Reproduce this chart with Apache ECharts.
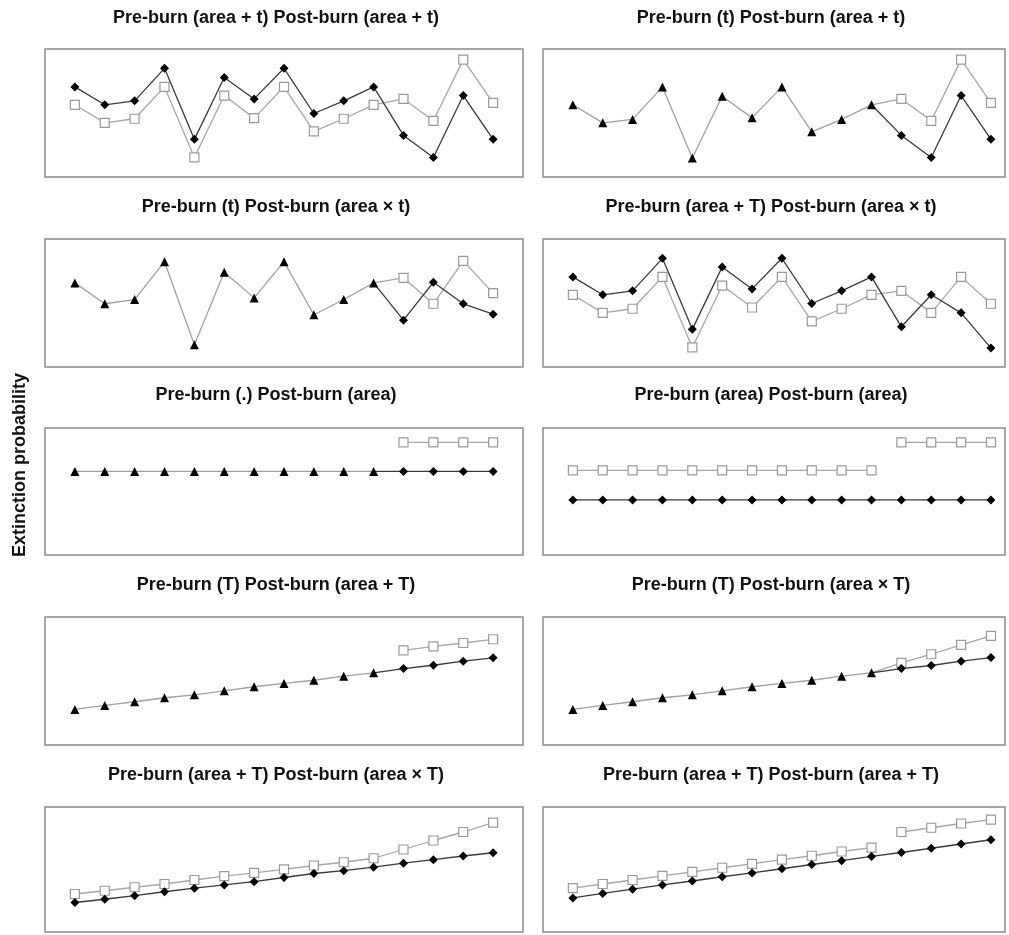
<!DOCTYPE html>
<html>
<head>
<meta charset="UTF-8">
<title>Extinction probability</title>
<script src="https://cdn.jsdelivr.net/npm/echarts@6/dist/echarts.min.js"></script>
<style>
    body, html { margin: 0; padding: 0; background: #fff; }
    #main { width: 1009px; height: 935px; }
</style>
</head>
<body>
<div id="main"></div>
<script>
    // values, in % of each panel's height
    // p1: Pre-burn (area + t) Post-burn (area + t)
    const p1Black = [70.4, 56.4, 59.5, 84.9, 29.4, 77.7, 61.0, 84.9, 49.6, 59.5, 70.4, 32.5, 15.3, 63.6, 29.4];
    const p1Gray  = [56.4, 42.3, 45.5, 70.4, 15.3, 63.6, 46.0, 70.4, 35.6, 45.5, 56.4, 61.0, 43.9, 91.7, 57.9];
    // p2: Pre-burn (t) Post-burn (area + t)
    const p2Pre   = [56.4, 42.3, 45.0, 70.4, 14.8, 63.1, 46.2, 70.4, 35.3, 45.0, 56.4];
    const p2Black = [32.5, 15.3, 63.6, 29.4];
    const p2Gray  = [61.0, 43.9, 91.7, 57.9];
    // p3: Pre-burn (t) Post-burn (area x t)
    const p3Pre   = [65.7, 49.4, 52.7, 82.3, 17.4, 74.0, 54.0, 82.3, 40.8, 52.7, 65.7];
    const p3Black = [36.6, 66.2, 49.4, 41.3];
    const p3Gray  = [69.6, 49.4, 82.9, 57.7];
    // p4: Pre-burn (area + T) Post-burn (area x t)
    const p4Black = [70.4, 56.4, 59.5, 84.9, 29.4, 78.2, 61.0, 84.9, 49.6, 59.5, 70.4, 31.4, 56.4, 42.3, 14.8];
    const p4Gray  = [56.4, 42.3, 45.5, 70.4, 15.3, 63.6, 46.5, 70.4, 35.6, 45.5, 56.4, 59.5, 42.3, 70.4, 49.4];
    // p5: Pre-burn (.) Post-burn (area)
    const p5Pre   = [65.8, 65.8, 65.8, 65.8, 65.8, 65.8, 65.8, 65.8, 65.8, 65.8, 65.8];
    const p5Black = [65.8, 65.8, 65.8, 65.8];
    const p5Gray  = [88.7, 88.7, 88.7, 88.7];
    // p6: Pre-burn (area) Post-burn (area)
    const p6Black   = [43.4, 43.4, 43.4, 43.4, 43.4, 43.4, 43.4, 43.4, 43.4, 43.4, 43.4, 43.4, 43.4, 43.4, 43.4];
    const p6GrayPre = [66.6, 66.6, 66.6, 66.6, 66.6, 66.6, 66.6, 66.6, 66.6, 66.6, 66.6];
    const p6Gray    = [88.7, 88.7, 88.7, 88.7];
    // p7: Pre-burn (T) Post-burn (area + T)
    const p7Pre   = [27.8, 30.9, 33.8, 36.9, 39.2, 42.3, 45.5, 48.1, 50.6, 53.8, 56.4];
    const p7Black = [59.7, 62.3, 65.5, 68.1];
    const p7Gray  = [74.0, 77.1, 79.7, 82.6];
    // p8: Pre-burn (T) Post-burn (area x T)
    const p8Pre   = [27.8, 30.9, 33.8, 36.9, 39.2, 42.3, 45.5, 48.1, 50.6, 53.8, 56.4];
    const p8Black = [59.7, 62.1, 65.5, 68.3];
    const p8Gray  = [64.2, 70.9, 78.2, 85.2];
    // p9: Pre-burn (area + T) Post-burn (area x T)
    const p9Black = [23.6, 26.2, 29.1, 32.2, 35.1, 37.7, 40.3, 43.6, 46.8, 49.1, 51.9, 55.1, 57.9, 60.8, 63.4];
    const p9Gray  = [30.4, 33.0, 35.8, 38.4, 41.6, 44.7, 47.3, 50.1, 53.2, 55.8, 59.0, 66.0, 73.2, 80.0, 87.5];
    // p10: Pre-burn (area + T) Post-burn (area + T)
    const p10Black   = [27.3, 30.9, 34.3, 37.7, 40.8, 44.2, 47.3, 50.6, 54.0, 57.1, 60.5, 63.6, 67.0, 70.4, 73.8];
    const p10GrayPre = [35.1, 38.4, 41.6, 44.9, 48.1, 51.4, 54.5, 57.9, 61.0, 64.4, 67.5];
    const p10Gray    = [80.0, 83.4, 86.8, 89.9];

    const titles = [
        'Pre-burn (area + t) Post-burn (area + t)', 'Pre-burn (t) Post-burn (area + t)',
        'Pre-burn (t) Post-burn (area \u00d7 t)', 'Pre-burn (area + T) Post-burn (area \u00d7 t)',
        'Pre-burn (.) Post-burn (area)', 'Pre-burn (area) Post-burn (area)',
        'Pre-burn (T) Post-burn (area + T)', 'Pre-burn (T) Post-burn (area \u00d7 T)',
        'Pre-burn (area + T) Post-burn (area \u00d7 T)', 'Pre-burn (area + T) Post-burn (area + T)'
    ];

    // lines for each panel: [values, kind, first index, pre line it is joined to]
    const panels = [
        [[p1Black, 'dia', 0], [p1Gray, 'sq', 0]],
        [[p2Pre, 'tri', 0], [p2Black, 'dia', 11, p2Pre], [p2Gray, 'sq', 11, p2Pre]],
        [[p3Pre, 'tri', 0], [p3Black, 'dia', 11, p3Pre], [p3Gray, 'sq', 11, p3Pre]],
        [[p4Black, 'dia', 0], [p4Gray, 'sq', 0]],
        [[p5Pre, 'tri', 0], [p5Black, 'dia', 11, p5Pre], [p5Gray, 'sq', 11]],
        [[p6Black, 'dia', 0], [p6GrayPre, 'sq', 0], [p6Gray, 'sq', 11]],
        [[p7Pre, 'tri', 0], [p7Black, 'dia', 11, p7Pre], [p7Gray, 'sq', 11]],
        [[p8Pre, 'tri', 0], [p8Black, 'dia', 11, p8Pre], [p8Gray, 'sq', 11, p8Pre]],
        [[p9Black, 'dia', 0], [p9Gray, 'sq', 0]],
        [[p10Black, 'dia', 0], [p10GrayPre, 'sq', 0], [p10Gray, 'sq', 11]]
    ];

    const rowTop = [49, 239, 428, 617, 807];
    const rowH = [128, 128, 127, 128, 125];
    const titleY = [18, 207, 395, 585, 775];
    const colLeft = [45, 543];
    const colWidth = [478, 462];
    const colMax = [15, 14.47];

    const styles = {
        tri: { symbol: 'triangle', symbolSize: 9, color: '#000', line: '#a0a0a0', lw: 1.3, z: 4 },
        dia: { symbol: 'diamond', symbolSize: 9, color: '#000', line: '#3a3a3a', lw: 1.3, z: 3 },
        sq:  { symbol: 'rect', symbolSize: 9, color: '#fff', line: '#a6a6a6', lw: 1.3, z: 2 }
    };

    var grids = [], xAxes = [], yAxes = [], series = [], graphics = [];
    panels.forEach(function (lines, i) {
        let row = Math.floor(i / 2), col = i % 2;
        grids.push({
            show: true, left: colLeft[col], top: rowTop[row], width: colWidth[col], height: rowH[row],
            borderColor: '#8a8a8a', borderWidth: 1.5, backgroundColor: 'transparent'
        });
        xAxes.push({ type: 'value', gridIndex: i, min: -1, max: colMax[col], show: false });
        yAxes.push({ type: 'value', gridIndex: i, min: 0, max: 100, show: false });
        graphics.push({
            type: 'text', x: colLeft[col] + colWidth[col] / 2 - (col === 0 ? 8 : 3), y: titleY[row],
            style: { text: titles[i], textAlign: 'center', textVerticalAlign: 'middle',
                     font: 'bold 18px "Liberation Sans", Arial, sans-serif', fill: '#111' }
        });
        lines.forEach(function (ln) {
            let vals = ln[0], st = styles[ln[1]], start = ln[2], pre = ln[3];
            let data = [];
            if (pre) {
                data.push({ value: [start - 1, pre[pre.length - 1]], symbol: 'none' });
            }
            vals.forEach(function (v, k) { data.push([start + k, v]); });
            series.push({
                type: 'line', xAxisIndex: i, yAxisIndex: i, data: data,
                symbol: st.symbol, symbolSize: st.symbolSize, showAllSymbol: true, z: st.z,
                lineStyle: { color: st.line, width: st.lw },
                itemStyle: { color: st.color, borderColor: st.symbol === 'rect' ? '#999' : '#000', borderWidth: st.symbol === 'rect' ? 1.2 : 0 },
                emphasis: { disabled: true }, animation: false, silent: true
            });
        });
    });

    graphics.push({
        type: 'text', x: 20, y: 465, rotation: Math.PI / 2,
        style: { text: 'Extinction probability', textAlign: 'center', textVerticalAlign: 'middle',
                 font: 'bold 18px "Liberation Sans", Arial, sans-serif', fill: '#111' }
    });

    var chart = echarts.init(document.getElementById('main'));
    chart.setOption({
        animation: false,
        backgroundColor: '#fff',
        grid: grids,
        xAxis: xAxes,
        yAxis: yAxes,
        series: series,
        graphic: graphics
    });
</script>
</body>
</html>
